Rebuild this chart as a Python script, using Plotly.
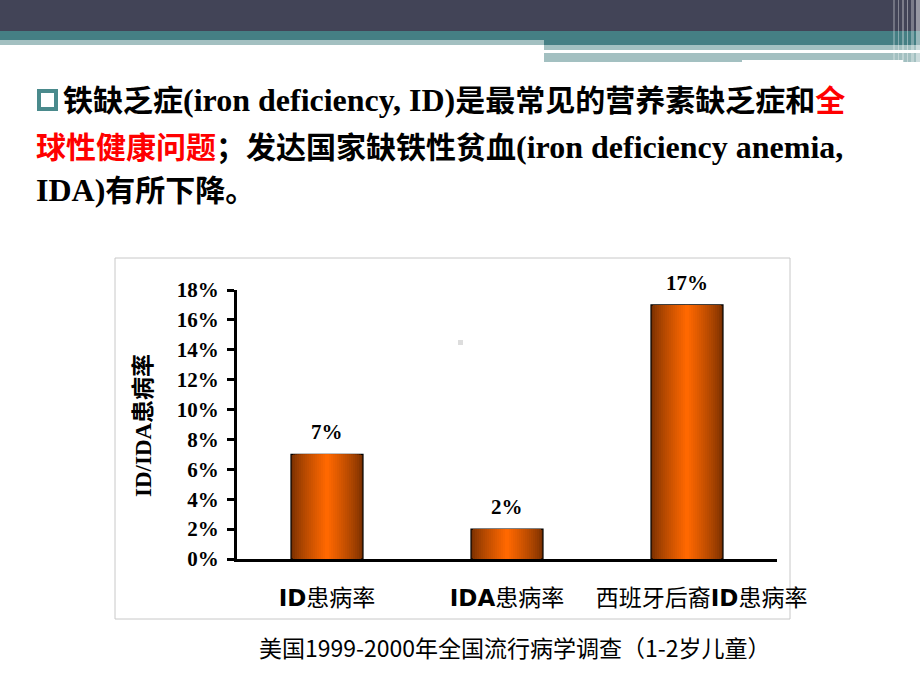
import plotly.graph_objects as go

# ---- data ----
categories = ["ID患病率", "IDA患病率", "西班牙后裔ID患病率"]
category_labels = ["<b>ID</b>患病率", "<b>IDA</b>患病率", "\u00a0\u00a0\u00a0\u00a0西班牙后裔<b>ID</b>患病率"]
values = [0.07, 0.02, 0.17]
value_labels = ["7%", "2%", "17%"]
tick_vals = [0, 0.02, 0.04, 0.06, 0.08, 0.10, 0.12, 0.14, 0.16, 0.18]
tick_text = ["0%", "2%", "4%", "6%", "8%", "10%", "12%", "14%", "16%", "18%"]

W, H = 920, 690
def px(x): return x / W
def py(y): return 1 - y / H

fig = go.Figure()

# gradient bars: nested overlaid bars, dark edges -> bright centre
N = 18
dark = (122, 48, 0)
bright = (255, 104, 0)
bar_w = 0.4
for k in range(N):
    t = k / (N - 1)  # 0 outer, 1 centre
    f = t ** 0.8
    c = tuple(int(dark[i] + (bright[i] - dark[i]) * f) for i in range(3))
    w = bar_w * (1 - k / N)
    fig.add_trace(go.Bar(
        x=categories, y=values, width=w,
        marker=dict(color="rgb(%d,%d,%d)" % c,
                    line=dict(color="black", width=1.2 if k == 0 else 0)),
        hoverinfo="skip", showlegend=False,
    ))

# value labels
for cat, v, lab in zip(categories, values, value_labels):
    fig.add_annotation(x=cat, y=v, text="<b>%s</b>" % lab, showarrow=False,
                       xref="x", yref="y", xanchor="center", yanchor="bottom", yshift=8,
                       font=dict(family="Liberation Serif", size=21, color="black"))

fig.update_layout(
    template="none",
    width=W, height=H, margin=dict(l=0, r=0, t=0, b=0, pad=0, autoexpand=False),
    paper_bgcolor="white", plot_bgcolor="white",
    barmode="overlay", showlegend=False,
    xaxis=dict(domain=[px(237), px(777)], range=[-0.5, 2.5], automargin=False,
               tickmode="array", tickvals=categories, ticktext=category_labels,
               showline=True, linecolor="black", linewidth=3,
               ticks="", showgrid=False, zeroline=False,
               ticklabelstandoff=16,
               tickfont=dict(family="DejaVu Sans, Noto Sans CJK SC", size=23, color="black")),
    yaxis=dict(domain=[py(559), py(290)], range=[0, 0.18], automargin=False,
               tickmode="array", tickvals=tick_vals, ticktext=["<b>%s</b>" % t for t in tick_text],
               showline=True, linecolor="black", linewidth=3,
               ticks="outside", ticklen=7, tickwidth=3, tickcolor="black",
               showgrid=False, zeroline=False, ticklabelstandoff=4,
               tickfont=dict(family="Liberation Serif", size=21, color="black")),
)

# y-axis title
fig.add_annotation(x=px(143), y=py(426), xref="paper", yref="paper",
                   xanchor="center", yanchor="middle",
                   text="<b>ID/IDA患病率</b>", textangle=-90, showarrow=False,
                   font=dict(family="Liberation Serif, Noto Sans CJK SC", size=23, color="black"))

# caption
fig.add_annotation(x=px(515), y=py(647), xref="paper", yref="paper",
                   xanchor="center", yanchor="middle",
                   text="美国1999-2000年全国流行病学调查（1-2岁儿童）", showarrow=False,
                   font=dict(family="Noto Sans CJK SC", size=23, color="black"))

# body text
body_font = dict(family="Liberation Serif, Noto Sans CJK SC", size=30, color="black")
L = '<span style="font-size:32px">%s</span>'
lines = [
    (61, 100, '<b>铁缺乏症' + L % '(iron deficiency, ID)' + '是最常见的营养素缺乏症和<span style="color:#FF0000">全</span></b>'),
    (34, 147, '<b><span style="color:#FF0000">球性健康问题</span>；发达国家缺铁性贫血' + L % '(iron deficiency anemia,' + '</b>'),
    (34, 190, '<b>' + L % 'IDA)' + '有所下降。</b>'),
]
for x0, y0, txt in lines:
    fig.add_annotation(x=px(x0), y=py(y0), xref="paper", yref="paper", text=txt,
                       xanchor="left", yanchor="middle", showarrow=False, font=body_font)

shapes = []
def rect(x0, y0, x1, y1, color, line=None, lw=0):
    shapes.append(dict(type="rect", xref="paper", yref="paper",
                       x0=px(x0), x1=px(x1), y0=py(y1), y1=py(y0),
                       fillcolor=color, line=dict(width=lw, color=line or color), layer="above"))

# header bands
rect(0, 0, 920, 31, "#424457")
rect(0, 31, 920, 40, "#457F84")
rect(0, 40, 544, 45, "#A3C0C1")
rect(544, 40, 920, 45, "#457F84")
rect(544, 45, 920, 50, "#A3C0C1")
rect(544, 53, 920, 62, "#A3C0C1")
rect(742, 60, 903, 62, "#FFFFFF")
# right edge stripes
for x0, x1, col in [(893, 895, "rgba(255,255,255,0.25)"), (898, 899, "rgba(255,255,255,0.35)"),
                    (902, 904, "rgba(255,255,255,0.3)"), (907, 908, "rgba(255,255,255,0.4)"),
                    (911, 914, "rgba(255,255,255,0.3)"), (916, 920, "rgba(255,255,255,0.45)")]:
    rect(x0, 0, x1, 62, col)

# bullet square
shapes.append(dict(type="rect", xref="paper", yref="paper",
                   x0=px(39), x1=px(56), y0=py(109), y1=py(91),
                   fillcolor="white", line=dict(width=4, color="#4A8A8C")))
# chart border
shapes.append(dict(type="rect", xref="paper", yref="paper",
                   x0=px(115), x1=px(790), y0=py(619), y1=py(258),
                   fillcolor="rgba(0,0,0,0)", line=dict(width=1, color="#C8C8C8"), layer="below"))
# small grey dot
rect(458, 340, 463, 345, "#DDDDDD")

fig.update_layout(shapes=shapes)
fig.write_html("out.html")
